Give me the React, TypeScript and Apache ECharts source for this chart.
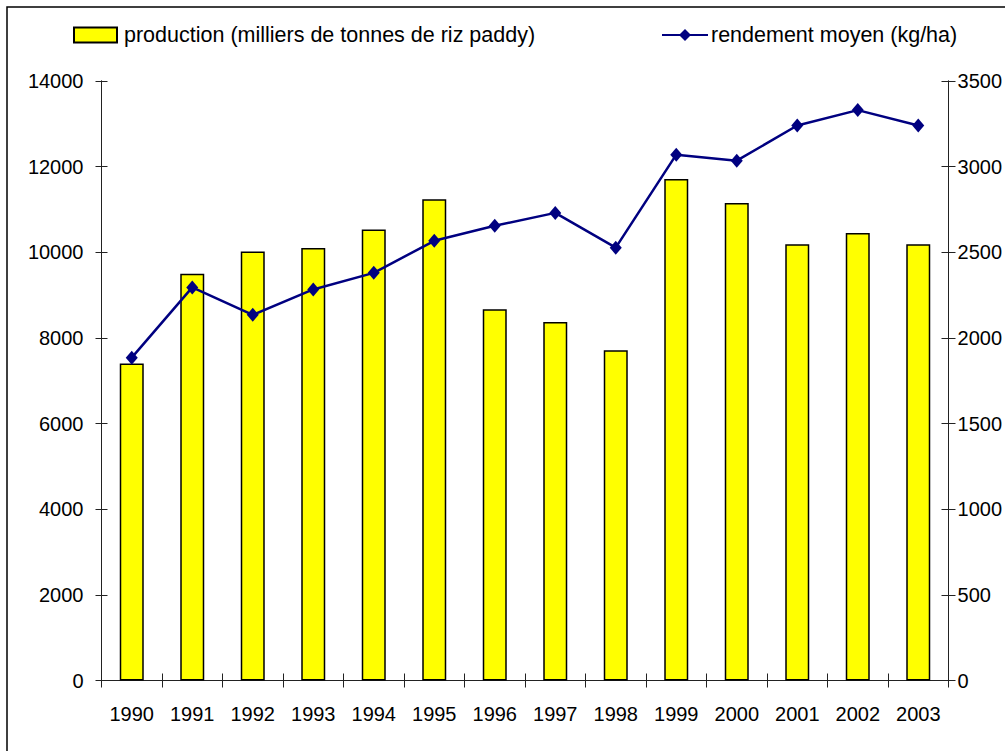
import React, { useEffect, useRef } from "react";
import * as echarts from "echarts";

const years = ["1990","1991","1992","1993","1994","1995","1996","1997","1998","1999","2000","2001","2002","2003"];
const production = [7400, 9500, 10020, 10100, 10530, 11240, 8670, 8370, 7710, 11710, 11150, 10190, 10450, 10190];
const rendement = [1885, 2295, 2135, 2283, 2380, 2567, 2655, 2730, 2527, 3070, 3035, 3240, 3330, 3240];
const leftTicks = { min: 0, max: 14000, interval: 2000 };
const rightTicks = { min: 0, max: 3500, interval: 500 };

const FONT = "Arial, 'Liberation Sans', sans-serif";

export default function App() {
  const ref = useRef<HTMLDivElement>(null);
  useEffect(() => {
    if (!ref.current) return;
    const chart = echarts.init(ref.current, null, { renderer: "svg" });
    const axisLine = { show: true, lineStyle: { color: "#222", width: 1 } };
    const fmt = (v: number) => String(v);
    const yBase = (pos: "left" | "right", t: any) => ({
      type: "value",
      position: pos,
      min: t.min,
      max: t.max,
      interval: t.interval,
      splitLine: { show: false },
      axisLine,
    });
    chart.setOption({
      animation: false,
      backgroundColor: "#fff",
      grid: { left: 101.5, right: 56, top: 81, bottom: 70.5, containLabel: false },
      legend: [
        {
          data: [{ name: "production (milliers de tonnes de riz paddy)", icon: "rect" }],
          left: 73,
          top: 24,
          padding: 0,
          itemWidth: 43,
          itemHeight: 15,
          textStyle: { fontFamily: FONT, fontSize: 21.5, color: "#000", padding: [0, 0, 0, 2] },
        },
        {
          data: ["rendement moyen (kg/ha)"],
          left: 661,
          top: 24,
          padding: 0,
          itemWidth: 46,
          itemHeight: 15,
          textStyle: { fontFamily: FONT, fontSize: 21.5, color: "#000", padding: [0, 0, 0, -2] },
        },
      ],
      xAxis: [
        {
          type: "category",
          data: years,
          axisLine,
          axisTick: { show: true, length: 7, lineStyle: { color: "#222" } },
          axisLabel: { fontFamily: FONT, fontSize: 20, color: "#000", margin: 23 },
        },
        {
          type: "category",
          data: years,
          position: "bottom",
          axisLine,
          axisTick: { show: true, inside: true, length: 7, lineStyle: { color: "#222" } },
          axisLabel: { show: false },
        },
      ],
      yAxis: [
        {
          ...yBase("left", leftTicks),
          axisTick: { show: true, length: 6, lineStyle: { color: "#222" } },
          axisLabel: { fontFamily: FONT, fontSize: 20, color: "#000", margin: 18, formatter: fmt },
        },
        {
          ...yBase("right", rightTicks),
          axisTick: { show: true, length: 7, lineStyle: { color: "#222" } },
          axisLabel: { fontFamily: FONT, fontSize: 20, color: "#000", margin: 9, formatter: fmt },
        },
        {
          ...yBase("left", leftTicks),
          axisTick: { show: true, inside: true, length: 6, lineStyle: { color: "#222" } },
          axisLabel: { show: false },
        },
        {
          ...yBase("right", rightTicks),
          axisTick: { show: true, inside: true, length: 7, lineStyle: { color: "#222" } },
          axisLabel: { show: false },
        },
      ],
      graphic: [
        {
          type: "rect",
          shape: { x: 7, y: 7, width: 1200, height: 900 },
          style: { fill: "none", stroke: "#000", lineWidth: 1.5 },
          silent: true,
        },
      ],
      series: [
        {
          name: "production (milliers de tonnes de riz paddy)",
          type: "bar",
          data: production,
          xAxisIndex: 0,
          yAxisIndex: 0,
          barWidth: 24,
          itemStyle: { color: "#ffff00", borderColor: "#000", borderWidth: 1.5 },
        },
        {
          name: "rendement moyen (kg/ha)",
          type: "line",
          data: rendement,
          xAxisIndex: 0,
          yAxisIndex: 1,
          symbol: "diamond",
          symbolSize: [12, 14],
          lineStyle: { color: "#000080", width: 2.5 },
          itemStyle: { color: "#000080" },
          z: 5,
        },
      ],
    });
    return () => chart.dispose();
  }, []);
  return (
    <div
      ref={ref}
      style={{ position: "absolute", left: 0, top: 0, width: 1005, height: 751 }}
    />
  );
}
